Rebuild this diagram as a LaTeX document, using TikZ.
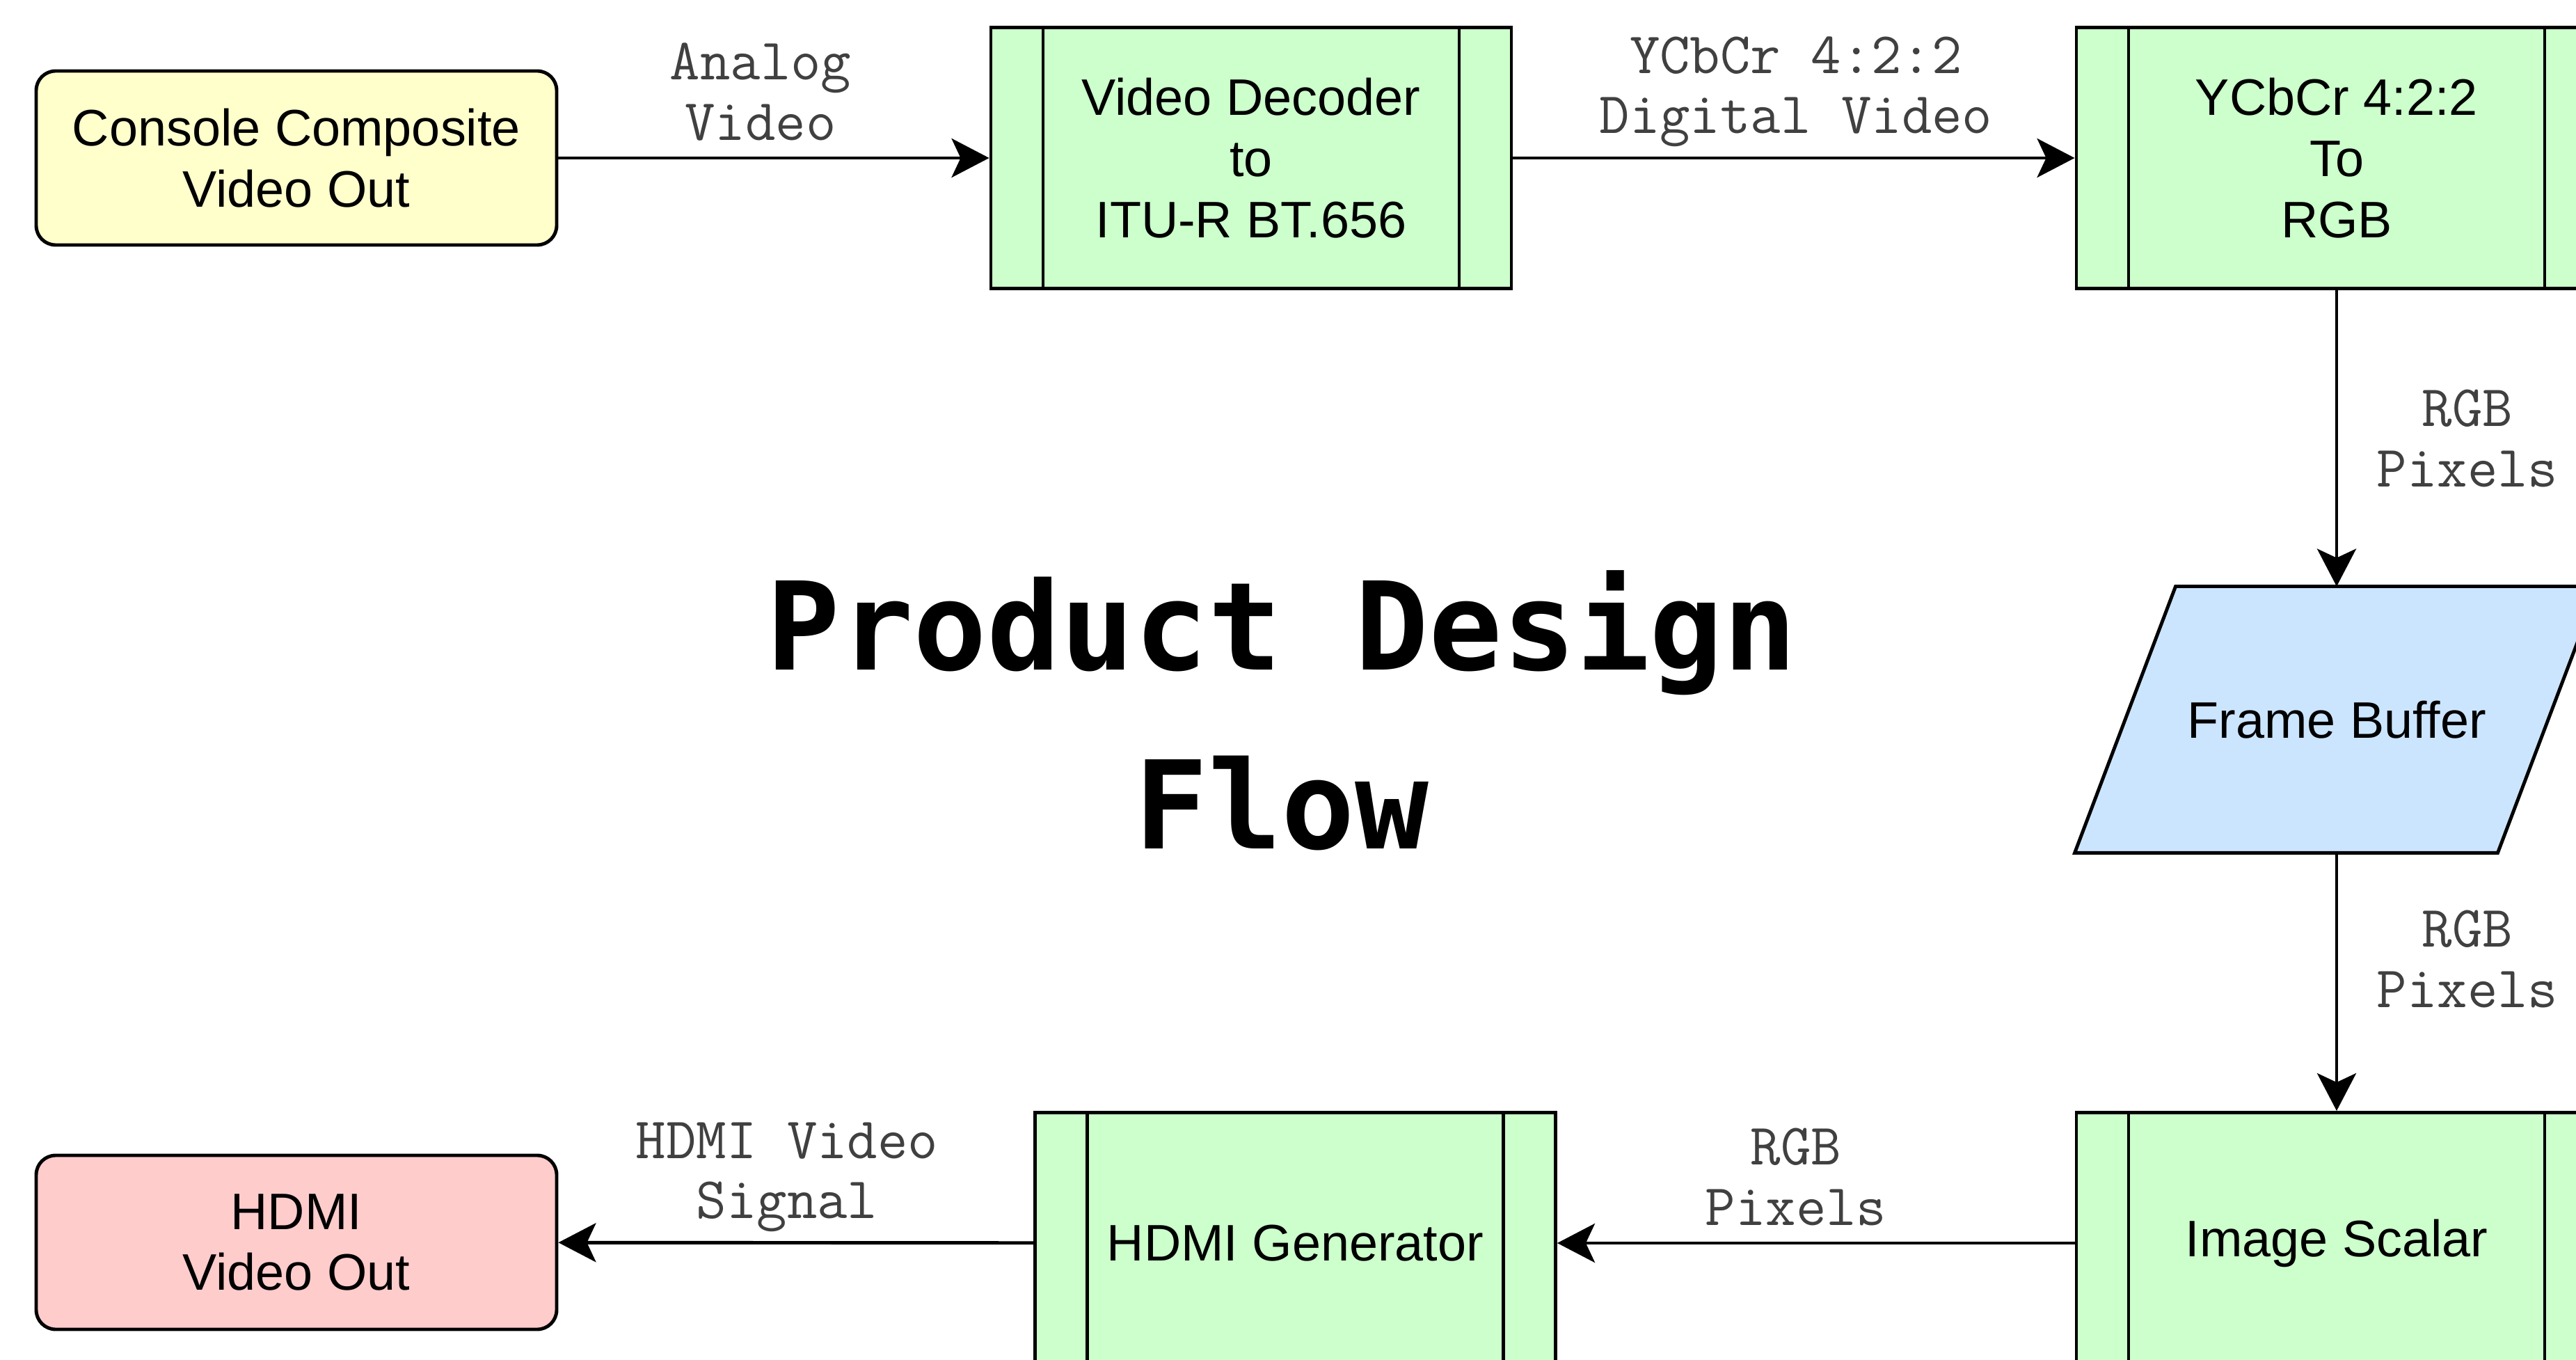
\documentclass[tikz,border=0pt]{standalone}
\usepackage{fontspec}
\setmainfont{Liberation Sans}
\newfontfamily\titlefont{DejaVu Sans Mono}
\usetikzlibrary{arrows.meta,backgrounds}

\definecolor{termyellow}{HTML}{FFFFCC}
\definecolor{procgreen}{HTML}{CCFFCC}
\definecolor{bufblue}{HTML}{CCE5FF}
\definecolor{outred}{HTML}{FFCCCC}

\tikzset{
    box/.style={draw, line width=1.4pt, minimum width=7.48cm, minimum height=3.75cm,
        inner sep=0pt, align=center, font=\fontsize{21}{25}\selectfont},
    procbox/.style={box, fill=procgreen, path picture={
        \draw[line width=1.2pt] ([xshift=0.75cm]path picture bounding box.north west) -- ([xshift=0.75cm]path picture bounding box.south west);
        \draw[line width=1.2pt] ([xshift=-0.75cm]path picture bounding box.north east) -- ([xshift=-0.75cm]path picture bounding box.south east);
    }},
    termbox/.style={box, rounded corners=0.28cm, minimum height=2.5cm},
    lbl/.style={align=center, text=black!75, font=\ttfamily\fontsize{24}{24.5}\selectfont},
    flow/.style={-{Stealth[length=0.54cm, width=0.56cm, inset=0.13cm]}, line width=1.4pt},
}

\begin{document}
\begin{tikzpicture}
    \useasboundingbox (0,0) rectangle (37.02,19.53);
    \clip (0,0) rectangle (37.02,19.53);

    % Top row
    \node[termbox, fill=termyellow] (console) at (4.26,17.26) {Console Composite\\Video Out};
    \node[procbox] (decoder) at (17.98,17.26) {Video Decoder\\to\\ITU-R BT.656};
    \node[procbox] (ycbcr) at (33.58,17.26) {YCbCr 4:2:2\\To\\RGB};

    % Frame buffer (parallelogram drawn behind the node)
    \node[box, draw=none, minimum height=3.78cm] (fbuf) at (33.58,9.19) {Frame Buffer};
    \begin{scope}[on background layer]
        \filldraw[fill=bufblue, line width=1.4pt] (fbuf.south west) -- ([xshift=1.45cm]fbuf.north west)
            -- (fbuf.north east) -- ([xshift=-1.45cm]fbuf.south east) -- cycle;
    \end{scope}

    % Bottom row
    \node[procbox] (scalar) at (33.58,1.67) {Image Scalar};
    \node[procbox] (hdmigen) at (18.615,1.67) {HDMI Generator};
    \node[termbox, fill=outred] (hdmiout) at (4.26,1.68) {HDMI\\Video Out};

    % Title
    \node[align=center, font=\titlefont\bfseries\fontsize{50}{73}\selectfont] (title) at (18.42,9.32) {Product Design\\Flow};

    % Connector labels
    \node[lbl] (lblanalog) at (10.93,18.21) {Analog\\Video};
    \node[lbl] (lbldigital) at (25.81,18.21) {YCbCr 4:2:2\\Digital Video};
    \node[lbl] (lblrgba) at (35.46,13.23) {RGB\\Pixels};
    \node[lbl] (lblrgbb) at (35.46,5.75) {RGB\\Pixels};
    \node[lbl] (lblrgbc) at (25.81,2.62) {RGB\\Pixels};
    \node[lbl] (lblhdmi) at (11.31,2.62) {HDMI Video\\Signal};

    % Connectors
    \draw[flow] (console) -- (decoder);
    \draw[flow] (decoder) -- (ycbcr);
    \draw[flow] (ycbcr) -- (fbuf);
    \draw[flow] (fbuf) -- (scalar);
    \draw[flow] (scalar) -- (hdmigen);
    \draw[flow] (hdmigen) -- (hdmiout);
\end{tikzpicture}
\end{document}
